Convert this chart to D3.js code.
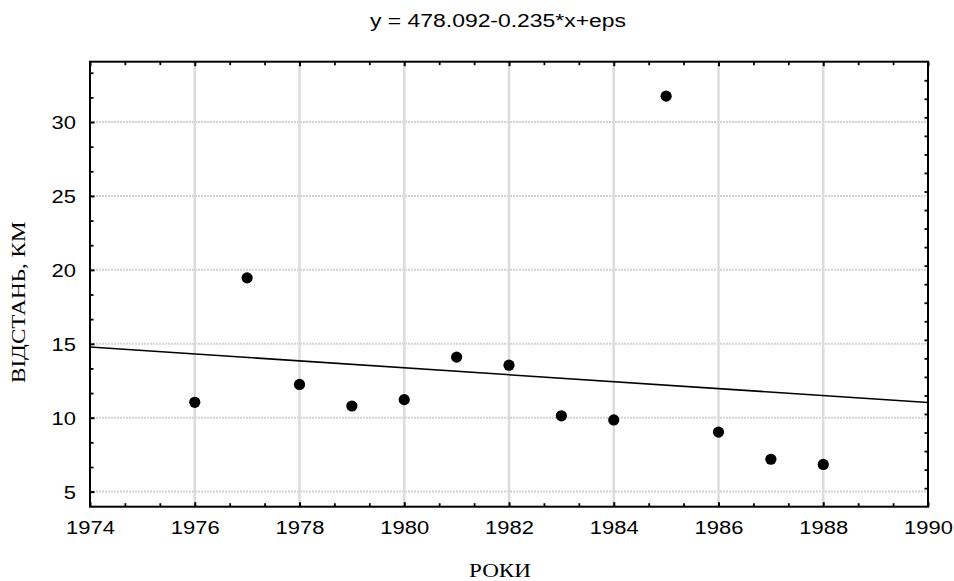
<!DOCTYPE html>
<html><head><meta charset="utf-8">
<script src="https://cdn.jsdelivr.net/npm/d3@7"></script>
<style>body{margin:0;background:#fff}svg{display:block}</style>
</head><body><svg id="c" width="954" height="581"></svg>
<script>
// ---- data ----
const years = [1976,1977,1978,1979,1980,1981,1982,1983,1984,1985,1986,1987,1988];
const distances = [11.04,19.46,12.25,10.79,11.22,14.10,13.55,10.13,9.85,31.75,9.03,7.19,6.84];
const fitYears = [1974,1990];
const fitValues = [14.78,11.03];
const xTickValues = [1974,1976,1978,1980,1982,1984,1986,1988,1990];
const yTickValues = [5,10,15,20,25,30];
const titleText = "y = 478.092-0.235*x+eps";
const xTitle = "РОКИ";
const yTitle = "ВІДСТАНЬ, КМ";

// ---- layout ----
const L = 90, R = 928, T = 61.7, B = 506.7;
const svg = d3.select('#c');
const x = d3.scaleLinear().domain([1974,1990]).range([L,R]);
const y = d3.scaleLinear().domain([3.98,34.08]).range([B,T]);
const SX = 1.18;
const sans = "'Liberation Sans', Arial, sans-serif";
const serif = "'Liberation Serif', 'Times New Roman', serif";

svg.append('rect').attr('width',954).attr('height',581).attr('fill','#fff');

// grid
svg.append('g').selectAll('line').data(yTickValues).join('line')
  .attr('x1',L).attr('x2',R).attr('y1',d=>y(d)).attr('y2',d=>y(d))
  .attr('stroke','#d2d2d2').attr('stroke-width',2).attr('stroke-dasharray','2,1');
svg.append('g').selectAll('line').data(xTickValues.slice(1,-1)).join('line')
  .attr('y1',T).attr('y2',B).attr('x1',d=>x(d)).attr('x2',d=>x(d))
  .attr('stroke','#dcdcdc').attr('stroke-width',2.5);

// fit line
svg.append('path')
  .datum(fitYears.map((d,i)=>[d,fitValues[i]]))
  .attr('d', d3.line().x(d=>x(d[0])).y(d=>y(d[1])))
  .attr('fill','none').attr('stroke','#000').attr('stroke-width',1.6);

// points
svg.append('g').selectAll('circle').data(years).join('circle')
  .attr('cx',d=>x(d)).attr('cy',(d,i)=>y(distances[i])).attr('r',5.6).attr('fill','#000');

// minor tick positions
const xMinor = d3.range(0,25).map(k=>1974+k*2/3).filter(v=>Math.abs((v-1974)/2-Math.round((v-1974)/2))>1e-6);
const yMinor = d3.range(0,40).map(k=>5/3*k).filter(v=>v>3.98&&v<34.08&&Math.abs(v/5-Math.round(v/5))>1e-6);
const yRight = d3.range(1,24).map(k=>3.98+k*(34.08-3.98)/24);

function styleAxis(g, w){
  g.select('.domain').remove();
  g.selectAll('line').attr('stroke','#000').attr('stroke-width',w);
}
// bottom
const gb = svg.append('g').attr('transform',`translate(0,${B})`)
  .call(d3.axisBottom(x).tickValues(xTickValues).tickSize(-4.5).tickFormat(d3.format('d')));
styleAxis(gb,2);
gb.selectAll('text').attr('y',27.8).attr('dy',null)
  .attr('transform',`scale(${SX},1)`)
  .style('font-family',sans).style('font-size','18.6px').attr('fill','#000');
const gbm = svg.append('g').attr('transform',`translate(0,${B})`)
  .call(d3.axisBottom(x).tickValues(xMinor).tickSize(-3.5).tickFormat(''));
styleAxis(gbm,1.8);
// top
const gt = svg.append('g').attr('transform',`translate(0,${T})`)
  .call(d3.axisTop(x).tickValues(xTickValues).tickSize(-4.5).tickFormat(''));
styleAxis(gt,2);
const gtm = svg.append('g').attr('transform',`translate(0,${T})`)
  .call(d3.axisTop(x).tickValues(xMinor).tickSize(-3.5).tickFormat(''));
styleAxis(gtm,1.8);
// left
const gl = svg.append('g').attr('transform',`translate(${L},0)`)
  .call(d3.axisLeft(y).tickValues(yTickValues).tickSize(-4.5));
styleAxis(gl,2);
gl.selectAll('text').attr('x',-14/SX).attr('dy','0.36em')
  .attr('transform',`scale(${SX},1)`).attr('text-anchor','end')
  .style('font-family',sans).style('font-size','18.6px').attr('fill','#000');
const glm = svg.append('g').attr('transform',`translate(${L},0)`)
  .call(d3.axisLeft(y).tickValues(yMinor).tickSize(-3.5).tickFormat(''));
styleAxis(glm,1.8);
// right
const gr = svg.append('g').attr('transform',`translate(${R},0)`)
  .call(d3.axisRight(y).tickValues(yRight).tickSize(-3.5).tickFormat(''));
styleAxis(gr,1.8);

// frame
svg.append('rect').attr('x',L).attr('y',T).attr('width',R-L).attr('height',B-T)
  .attr('fill','none').attr('stroke','#000').attr('stroke-width',2);

// titles
svg.append('text').attr('x',498).attr('y',26.7).attr('text-anchor','middle')
  .attr('textLength',256).attr('lengthAdjust','spacingAndGlyphs')
  .style('font-family',sans).style('font-size','18px').text(titleText);
svg.append('text').attr('transform',`translate(500,577) scale(${SX},1)`).attr('text-anchor','middle')
  .style('font-family',serif).style('font-size','19.6px').text(xTitle);
svg.append('text').attr('transform',`translate(25,383) rotate(-90) scale(${SX},1)`).attr('text-anchor','start')
  .style('font-family',serif).style('font-size','19.6px').text(yTitle);
</script></body></html>
